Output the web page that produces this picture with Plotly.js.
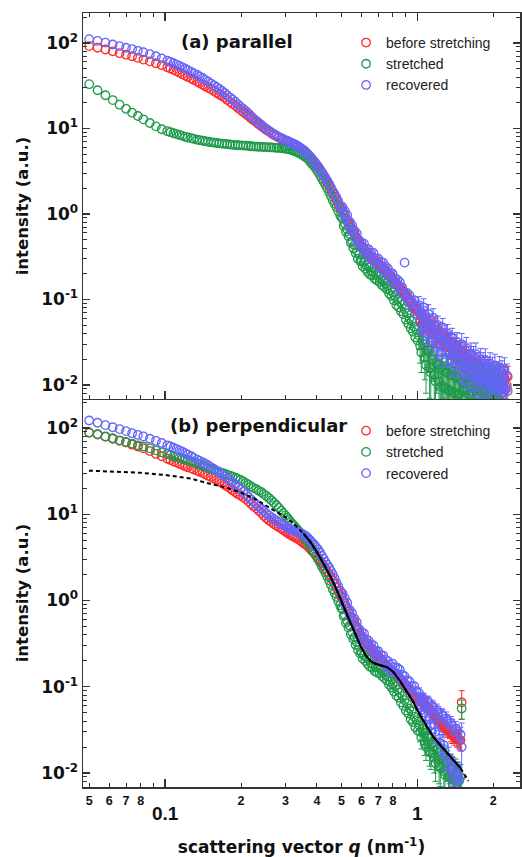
<!DOCTYPE html>
<html><head><meta charset="utf-8">
<script src="https://cdn.plot.ly/plotly-3.0.1.min.js"></script>
<style>html,body{margin:0;padding:0;background:#fff;}</style>
</head><body>
<div id="chart" style="width:522px;height:857px;"></div>
<script>
// scattering vector q (nm^-1)
const q = [0.050,0.054,0.058,0.062,0.066,0.070,0.074,0.078,0.082,0.087,0.092,0.097,
0.102,0.105,0.108,0.111,0.114,0.117,0.120,0.123,0.127,0.130,0.134,0.137,0.141,0.144,0.148,0.152,0.156,0.160,0.164,0.168,
0.172,0.176,0.181,0.185,0.190,0.194,0.199,0.204,0.209,0.214,0.219,0.224,0.230,0.235,0.241,0.246,0.252,0.258,0.264,0.270,0.276,0.282,0.289,0.294,
0.300,0.305,0.310,0.315,0.320,0.325,0.331,0.336,0.342,0.348,0.354,0.360,0.366,0.372,0.378,0.384,0.391,0.397,0.404,0.411,
0.418,0.425,0.432,0.439,0.447,0.454,0.462,0.470,0.478,0.486,0.494,0.499,
0.505,0.510,0.516,0.521,0.527,0.533,0.539,0.545,0.551,0.557,0.563,0.569,0.575,0.581,0.588,0.594,0.601,0.607,0.614,0.621,
0.628,0.635,0.642,0.649,0.656,0.663,0.670,0.677,0.685,0.692,0.700,0.708,0.716,0.724,0.732,0.740,0.748,0.756,0.764,0.772,
0.781,0.789,0.798,0.807,0.816,0.825,0.834,0.843,0.852,0.861,0.871,0.880,0.890,0.900,0.910,0.920,0.930,0.940,0.950,0.960,
0.971,0.981,0.992,1.003,
1.014,1.025,1.036,1.047,1.059,1.070,1.082,1.094,1.106,1.118,1.130,1.142,1.155,1.167,1.180,1.193,1.206,1.219,1.232,1.245,
1.259,1.273,1.287,1.301,1.315,1.329,1.344,1.358,1.373,1.388,1.403,1.418,1.434,1.450,1.466,1.482,
1.498,1.514,1.531,1.547,1.564,1.581,1.598,1.615,1.633,1.651,1.669,1.687,1.706,1.724,1.743,1.762,1.781,1.800,1.820,1.840,
1.860,1.880,1.901,1.922,1.943,1.964,1.985,2.007,2.029,2.051,2.073,2.096,2.119,2.142,2.165,2.189,2.213,2.237,2.262,2.280];

// (a) parallel
const aBefore = [92,88,84,80,76,73,70,67,64,61,58,55,
52,50.2,48.5,46.7,45,43.2,41.5,40,38.5,37,35.5,34,32.5,31.2,30,28.7,27.5,26.2,25,24,
23,21.7,20.5,19.5,18.5,17.5,16.5,15.6,14.8,14,13.2,12.5,11.8,11.2,10.6,10.1,9.6,9.2,8.8,8.4,8.1,7.85,7.6,7.4,
7.2,7.05,6.9,6.75,6.6,6.45,6.3,6.1,5.9,5.7,5.5,5.25,5.0,4.75,4.5,4.25,4.0,3.75,3.5,3.25,
3.0,2.77,2.55,2.35,2.15,1.95,1.75,1.6,1.45,1.3,1.18,1.13,
1.08,1.02,0.96,0.89,0.83,0.8,0.76,0.7,0.65,0.62,0.59,0.55,0.52,0.5,0.47,0.44,0.42,0.405,0.39,0.375,
0.36,0.35,0.34,0.33,0.32,0.31,0.30,0.29,0.28,0.272,0.265,0.257,0.25,0.242,0.235,0.227,0.22,0.212,0.205,0.197,
0.19,0.182,0.175,0.167,0.16,0.155,0.15,0.144,0.138,0.133,0.128,0.123,0.118,0.113,0.108,0.103,0.098,0.094,0.09,0.086,
0.083,0.079,0.076,0.073,
0.07,0.058,0.064,0.052,0.058,0.06,0.055,0.045,0.026,0.052,0.048,0.041,0.046,0.05,0.04,0.036,0.043,0.039,0.035,0.03,
0.037,0.033,0.031,0.036,0.033,0.028,0.027,0.031,0.029,0.022,0.024,0.028,0.026,0.02,0.021,0.025,
0.024,0.02,0.018,0.022,0.021,0.015,0.016,0.02,0.019,0.013,0.014,0.018,0.018,0.012,0.013,0.017,0.016,0.011,0.012,0.016,
0.015,0.0105,0.011,0.015,0.014,0.0098,0.011,0.014,0.013,0.0095,0.010,0.0135,0.0125,0.009,0.0105,0.013,0.012,0.0088,0.0098,0.0125];
const aStretched = [33,28,24.5,21.5,19,17,15.3,14,12.8,11.6,10.6,9.8,
9.3,9.05,8.8,8.6,8.4,8.2,8.0,7.85,7.7,7.55,7.4,7.3,7.2,7.1,7.0,6.92,6.85,6.77,6.7,6.65,
6.6,6.55,6.5,6.45,6.4,6.37,6.35,6.32,6.3,6.25,6.2,6.17,6.15,6.12,6.1,6.07,6.05,6.02,6.0,5.97,5.95,5.92,5.9,5.85,
5.8,5.75,5.7,5.62,5.55,5.45,5.35,5.22,5.1,4.95,4.8,4.65,4.5,4.25,4.0,3.8,3.6,3.35,3.1,2.85,
2.6,2.4,2.2,2.0,1.8,1.62,1.45,1.32,1.2,1.08,0.97,0.92,
0.88,0.73,0.77,0.62,0.66,0.55,0.58,0.46,0.48,0.40,0.43,0.35,0.37,0.30,0.335,0.28,0.29,0.245,0.273,0.23,
0.25,0.21,0.238,0.195,0.215,0.19,0.209,0.175,0.196,0.167,0.189,0.16,0.173,0.147,0.166,0.14,0.154,0.132,0.144,0.118,
0.129,0.11,0.121,0.098,0.11,0.086,0.099,0.081,0.094,0.073,0.087,0.067,0.077,0.058,0.069,0.052,0.06,0.046,0.056,0.042,
0.048,0.036,0.044,0.033,
0.038,0.029,0.024,0.033,0.03,0.021,0.017,0.026,0.025,0.016,0.014,0.022,0.02,0.013,0.011,0.018,0.017,0.011,0.0095,0.016,
0.015,0.0095,0.009,0.014,0.014,0.0088,0.0085,0.013,0.013,0.0082,0.008,0.0125,0.012,0.0079,0.0078,0.0115,
0.011,0.0092,0.0085,0.0105,0.012,0.0088,0.0078,0.01,0.011,0.0079,0.0082,0.0115,0.0105,0.0077,0.0076,0.0098,0.012,0.0083,0.008,0.0095,
0.0098,0.0074,0.0075,0.0102,0.011,0.0081,0.0079,0.0093,0.0095,0.0073,0.0074,0.0099,0.0105,0.0078];
const aRecovered = [111,106,101,96,92,88,85,81,78,74,70,66,
62,60,58,56,54,52,50,48,46,44,42.5,40.5,39,37,35.5,33.5,32,30.5,29,27.5,
26,24.5,23,21.8,20.5,19.2,18,17,16,15,14,13.1,12.3,11.6,11,10.4,9.9,9.4,9.0,8.6,8.3,8.0,7.7,7.5,
7.3,7.15,7.0,6.85,6.7,6.55,6.4,6.2,6.0,5.8,5.6,5.35,5.1,4.85,4.6,4.35,4.1,3.85,3.6,3.35,
3.1,2.87,2.65,2.45,2.25,2.05,1.85,1.7,1.55,1.4,1.25,1.18,
1.21,1.0,1.08,0.89,0.97,0.76,0.81,0.66,0.74,0.61,0.64,0.52,0.59,0.48,0.49,0.41,0.46,0.39,0.45,0.36,
0.39,0.32,0.385,0.33,0.35,0.29,0.35,0.28,0.30,0.25,0.30,0.245,0.275,0.225,0.27,0.22,0.243,0.197,0.23,0.19,
0.205,0.168,0.2,0.16,0.177,0.147,0.17,0.14,0.158,0.122,0.138,0.116,0.27,0.106,0.119,0.095,0.112,0.09,0.097,0.079,
0.098,0.075,0.084,0.066,
0.086,0.054,0.07,0.045,0.081,0.051,0.064,0.04,0.068,0.042,0.05,0.033,0.061,0.037,0.049,0.03,0.05,0.03,0.04,0.024,
0.047,0.03,0.039,0.024,0.04,0.025,0.032,0.02,0.036,0.023,0.03,0.019,0.032,0.019,0.025,0.0165,
0.03,0.016,0.024,0.014,0.027,0.0156,0.021,0.013,0.023,0.0134,0.021,0.0114,0.023,0.0135,0.0176,0.011,0.0198,0.0116,0.0177,0.01,
0.0196,0.0114,0.0157,0.0097,0.0176,0.0098,0.0156,0.0088,0.0169,0.0101,0.0138,0.0086,0.0159,0.0091,0.0142,0.0082,0.0154,0.0095,0.013,0.0085];
// error bars of the high-q tail (from q = 1.014 on)
const aBeforeErr = [0.016,0.014,0.015,0.013,0.014,0.014,0.013,0.012,0.012,0.012,0.011,0.01,0.011,0.011,0.01,0.009,0.01,0.009,0.009,0.008,
0.009,0.008,0.008,0.009,0.008,0.007,0.007,0.008,0.007,0.006,0.006,0.007,0.007,0.0055,0.0055,0.0065,
0.007,0.006,0.0055,0.0065,0.0065,0.005,0.0052,0.006,0.006,0.0045,0.0048,0.0055,0.0055,0.0042,0.0045,0.0052,0.005,0.004,0.0042,0.005,
0.0048,0.0038,0.004,0.0048,0.0045,0.0036,0.004,0.0045,0.0042,0.0035,0.0036,0.0043,0.004,0.0033,0.0036,0.0042,0.004,0.0032,0.0035,0.004];
const aStretchedErr = [0.012,0.011,0.01,0.011,0.011,0.0095,0.009,0.01,0.011,0.009,0.012,0.01,0.009,0.009,0.0115,0.01,0.008,0.009,0.01,0.0105,
0.008,0.009,0.0095,0.009,0.008,0.0085,0.009,0.0075,0.0085,0.008,0.0085,0.0075,0.007,0.0078,0.008,0.0072,
0.008,0.0085,0.009,0.0075,0.007,0.0085,0.008,0.0072,0.0075,0.0083,0.0085,0.007,0.007,0.008,0.0082,0.0072,0.007,0.008,0.0085,0.007,
0.0065,0.0078,0.008,0.007,0.007,0.008,0.0082,0.0068,0.0065,0.0076,0.008,0.0068,0.007,0.0079];
const aRecoveredErr = [0.022,0.016,0.02,0.014,0.021,0.015,0.018,0.013,0.019,0.013,0.015,0.011,0.017,0.012,0.014,0.01,0.014,0.01,0.012,0.008,
0.013,0.0095,0.011,0.008,0.011,0.008,0.0095,0.007,0.01,0.0075,0.009,0.0065,0.009,0.0065,0.0075,0.006,
0.01,0.006,0.008,0.005,0.009,0.0055,0.007,0.0048,0.008,0.005,0.0072,0.0042,0.008,0.005,0.0062,0.004,0.007,0.0042,0.0062,0.0038,
0.0068,0.0042,0.0055,0.0036,0.0062,0.0036,0.0055,0.0033,0.006,0.0037,0.005,0.0032,0.0056,0.0034,0.005,0.0031,0.0054,0.0035,0.0046,0.0032];

// (b) perpendicular
const bBefore = [88,84,79,75,71,68,64,61,58,54,50,47,
44,42.5,41,39.7,38.5,37.2,36,35,34,33,32,31,30,29,28,27,26,25,24,23,
22,21,20,19,18,17.2,16.5,15.7,15,14.1,13.2,12.4,11.7,11,10.3,9.6,9.0,8.5,8.1,7.7,7.4,7.1,6.8,6.55,
6.3,6.1,5.9,5.75,5.6,5.45,5.3,5.15,5.0,4.8,4.6,4.45,4.3,4.1,3.9,3.7,3.5,3.3,3.1,2.9,
2.7,2.52,2.35,2.17,2.0,1.85,1.7,1.55,1.4,1.27,1.15,1.1,
1.05,0.98,0.92,0.86,0.8,0.75,0.7,0.65,0.61,0.58,0.55,0.51,0.48,0.455,0.43,0.405,0.38,0.365,0.35,0.335,
0.32,0.31,0.30,0.29,0.28,0.27,0.26,0.25,0.24,0.232,0.225,0.217,0.21,0.202,0.195,0.187,0.18,0.175,0.17,0.165,
0.16,0.155,0.15,0.147,0.145,0.14,0.135,0.13,0.125,0.12,0.115,0.11,0.106,0.102,0.098,0.094,0.091,0.088,0.085,0.082,
0.079,0.076,0.073,0.07,
0.07,0.075,0.07,0.066,0.064,0.062,0.06,0.058,0.056,0.054,0.052,0.05,0.049,0.047,0.045,0.043,0.042,0.04,0.039,0.038,
0.036,0.035,0.034,0.033,0.032,0.031,0.03,0.029,0.028,0.027,0.026,0.028,0.026,0.025,0.024,0.024,
0.066];
const bStretched = [89,85,80,76,72,69,66,63,61,58,55,52,
50,48.5,47,46,45,44,43,42,41,39.7,38.5,37.5,36.5,35.5,34.5,33.5,32.5,31.7,31,30.2,
29.5,28.7,28,27.2,26.5,25.7,25,24,23,22,21,20.2,19.5,18.7,18,17.1,16.3,15.4,14.5,13.6,12.8,11.9,11,10.3,
9.7,9.1,8.6,8.1,7.7,7.3,6.9,6.55,6.2,5.85,5.5,5.15,4.8,4.5,4.2,3.9,3.6,3.3,3.0,2.75,
2.5,2.3,2.1,1.9,1.7,1.52,1.35,1.22,1.1,0.98,0.88,0.82,
0.79,0.66,0.685,0.55,0.58,0.485,0.51,0.405,0.43,0.357,0.375,0.307,0.33,0.267,0.29,0.242,0.25,0.212,0.235,0.2,
0.217,0.183,0.205,0.17,0.189,0.166,0.182,0.152,0.17,0.146,0.167,0.143,0.157,0.133,0.15,0.126,0.138,0.119,0.13,0.106,
0.115,0.098,0.107,0.088,0.101,0.079,0.092,0.075,0.085,0.066,0.078,0.06,0.07,0.053,0.064,0.049,0.056,0.042,0.052,0.039,
0.045,0.034,0.041,0.031,
0.036,0.03,0.026,0.032,0.029,0.022,0.02,0.026,0.023,0.018,0.017,0.022,0.02,0.015,0.013,0.019,0.017,0.012,0.0115,0.016,
0.015,0.0105,0.0095,0.014,0.013,0.009,0.0088,0.012,0.011,0.0085,0.0085,0.0105,0.0095,0.008,0.0082,0.009,
0.056];
const bRecovered = [122,115,108,102,97,92,87,83,80,75,71,67,
63,61,59,57,55,53,51,49,47,45,43,41.5,40,38.5,37,35.2,33.5,32,30.5,29,
27.5,26.2,25,23.5,22,20.7,19.5,18.2,17,15.9,14.8,13.9,13,12.2,11.5,10.8,10.2,9.7,9.2,8.8,8.4,8.05,7.7,7.45,
7.2,7.0,6.8,6.65,6.5,6.4,6.3,6.2,6.1,5.95,5.8,5.6,5.4,5.15,4.9,4.65,4.4,4.15,3.9,3.6,
3.3,3.05,2.8,2.6,2.4,2.2,2.0,1.8,1.6,1.45,1.3,1.22,
1.21,0.99,1.06,0.86,0.94,0.74,0.78,0.63,0.71,0.585,0.615,0.49,0.56,0.45,0.465,0.38,0.43,0.366,0.415,0.33,
0.357,0.29,0.34,0.288,0.31,0.255,0.302,0.244,0.26,0.218,0.258,0.211,0.233,0.191,0.23,0.187,0.205,0.168,0.198,0.165,
0.179,0.15,0.185,0.15,0.169,0.142,0.165,0.138,0.158,0.122,0.138,0.116,0.132,0.106,0.119,0.095,0.115,0.094,0.101,0.083,
0.102,0.078,0.089,0.07,
0.085,0.062,0.058,0.074,0.072,0.05,0.045,0.068,0.066,0.042,0.036,0.06,0.058,0.036,0.03,0.054,0.05,0.028,0.022,0.048,
0.046,0.021,0.016,0.043,0.04,0.015,0.012,0.038,0.035,0.011,0.0095,0.033,0.03,0.0092,0.0085,0.028,
0.02];
const bBeforeErr = [0.01,0.009,0.009,0.008,0.009,0.008,0.008,0.007,0.008,0.007,0.008,0.007,0.007,0.006,0.007,0.006,0.007,0.006,0.006,0.006,
0.006,0.005,0.006,0.005,0.006,0.005,0.005,0.006,0.006,0.005,0.005,0.006,0.006,0.005,0.005,0.006,0.024];
const bStretchedErr = [0.008,0.007,0.007,0.008,0.008,0.006,0.006,0.007,0.007,0.006,0.006,0.007,0.006,0.005,0.005,0.006,0.006,0.0045,0.0045,0.0055,
0.005,0.004,0.004,0.005,0.005,0.0038,0.0038,0.0045,0.0045,0.0035,0.0035,0.004,0.004,0.0033,0.0034,0.0036,0.014];
const bRecoveredErr = [0.012,0.01,0.009,0.011,0.011,0.009,0.008,0.01,0.01,0.008,0.008,0.01,0.009,0.007,0.007,0.009,0.009,0.006,0.006,0.008,
0.008,0.006,0.005,0.008,0.007,0.005,0.0045,0.007,0.007,0.004,0.004,0.0065,0.006,0.004,0.004,0.006,0.018];

// model curve, panel (b)
const modelQ = [0.0499,0.0605,0.0796,0.1,0.1257,0.1468,0.1730,0.1984,0.2276,0.2683,0.2994,0.3221,0.3528,0.3762,0.4010,0.4276,0.4517,0.4728,0.4950,0.5181,0.5422,0.5675,0.5940,0.6218,0.6509,0.6813,0.7131,0.7603,0.8032,0.8562,0.9128,0.9641,1.0278,1.0957,1.1576,1.2340,1.3153,1.3895,1.4813,1.5937];
const modelI = [32,31.5,30.3,28.5,26,23,20.5,18,15,11.2,9.3,7.9,6.0,4.8,3.6,2.6,1.9,1.45,1.05,0.75,0.55,0.41,0.30,0.235,0.20,0.185,0.177,0.168,0.148,0.115,0.086,0.066,0.046,0.034,0.026,0.021,0.017,0.0138,0.0114,0.0081];
const solidFrom = 12, solidTo = 38;

const seriesNames = ['before stretching','stretched','recovered'];
const seriesColors = ['#ff2a2a','#1f9a4b','#6464ff'];
const tickLabelsY = ['10<sup>-2</sup>','10<sup>-1</sup>','10<sup>0</sup>','10<sup>1</sup>','10<sup>2</sup>'];
const minorLabelVals = [0.05,0.06,0.07,0.08,0.2,0.3,0.4,0.5,0.6,0.7,0.8,2];
const minorLabelText = ['5','6','7','8','2','3','4','5','6','7','8','2'];

const tailStart = 152; // index of q = 1.014
function padErr(tail){ return Array(tailStart).fill(NaN).concat(tail); }

const traces = [];
const aSets = [aBefore, aStretched, aRecovered];
const aErrs = [aBeforeErr, aStretchedErr, aRecoveredErr];
const bSets = [bBefore, bStretched, bRecovered];
const bErrs = [bBeforeErr, bStretchedErr, bRecoveredErr];
function mk(i){ return {symbol:'circle-open', size:8.5, color:seriesColors[i], line:{width:1.3, color:seriesColors[i]}}; }
for (let i=0;i<3;i++){
  traces.push({x:q.slice(0,aSets[i].length), y:aSets[i], xaxis:'x', yaxis:'y', type:'scatter', mode:'markers',
    name:seriesNames[i], legend:'legend', marker:mk(i),
    error_y:{type:'data', array:padErr(aErrs[i]), visible:true, color:seriesColors[i], thickness:1, width:3}});
}
for (let i=0;i<3;i++){
  traces.push({x:q.slice(0,bSets[i].length), y:bSets[i], xaxis:'x2', yaxis:'y2', type:'scatter', mode:'markers',
    name:seriesNames[i], legend:'legend2', marker:mk(i),
    error_y:{type:'data', array:padErr(bErrs[i]), visible:true, color:seriesColors[i], thickness:1, width:3}});
}
traces.push({x:modelQ, y:modelI, xaxis:'x2', yaxis:'y2', type:'scatter', mode:'lines', showlegend:false,
  line:{color:'#000', width:2, dash:'4px,3px'}});
traces.push({x:modelQ.slice(solidFrom, solidTo+1), y:modelI.slice(solidFrom, solidTo+1), xaxis:'x2', yaxis:'y2', type:'scatter', mode:'lines', showlegend:false,
  line:{color:'#000', width:2}});
traces.push({x:[], y:[], xaxis:'x3', yaxis:'y2', type:'scatter', mode:'markers', showlegend:false});

const minorY = []; for (let e=-3;e<=2;e++) for (let m=2;m<=9;m++) minorY.push(m*Math.pow(10,e));
const minorX = []; for (let e=-2;e<=0;e++) for (let m=2;m<=9;m++) minorX.push(m*Math.pow(10,e));

const axisCol = '#333';
const boldFont = 'DejaVu Sans, sans-serif';
const xRange = [-1.3254, 0.4067];
function yAxis(range, domain, anchor){
  return {type:'log', range:range, domain:domain, anchor:anchor,
    tickmode:'array', tickvals:[0.01,0.1,1,10,100], ticktext:tickLabelsY,
    tickfont:{family:boldFont, size:17, color:'#111', weight:'bold'},
    ticks:'inside', ticklen:7, tickwidth:1.3, tickcolor:axisCol,
    minor:{tickmode:'array', tickvals:minorY, ticks:'inside', ticklen:4, tickwidth:1, tickcolor:axisCol, showgrid:false},
    showline:true, linecolor:axisCol, linewidth:1.5, mirror:'ticks', showgrid:false, zeroline:false,
    title:{text:'intensity (a.u.)', font:{family:boldFont, size:16.5, color:'#111', weight:'bold'}, standoff:8},
    automargin:false};
}
const layout = {
  width:522, height:857, margin:{l:83, r:2, t:13, b:70}, paper_bgcolor:'#fff', plot_bgcolor:'#fff',
  showlegend:true,
  xaxis:{type:'log', range:xRange, domain:[0,1], anchor:'y', showticklabels:false,
    tickmode:'array', tickvals:[0.1,1], ticks:'inside', ticklen:8, tickwidth:1.3, tickcolor:axisCol,
    minor:{tickmode:'array', tickvals:minorX, ticks:'inside', ticklen:4, tickwidth:1, tickcolor:axisCol, showgrid:false},
    showline:true, linecolor:axisCol, linewidth:1.5, mirror:'ticks', showgrid:false, zeroline:false, automargin:false},
  xaxis2:{type:'log', range:xRange, domain:[0,1], anchor:'y2',
    tickmode:'array', tickvals:[0.1,1], ticktext:['0.1','1'], ticklabelstandoff:9,
    tickfont:{family:'Liberation Sans, Arial, sans-serif', size:19, color:'#111', weight:'bold'},
    ticks:'inside', ticklen:8, tickwidth:1.3, tickcolor:axisCol,
    minor:{tickmode:'array', tickvals:minorX, ticks:'inside', ticklen:4, tickwidth:1, tickcolor:axisCol, showgrid:false},
    showline:true, linecolor:axisCol, linewidth:1.5, mirror:false, showgrid:false, zeroline:false, automargin:false,
    title:{text:'scattering vector <i>q</i> (nm<sup>-1</sup>)', font:{family:boldFont, size:17, color:'#111', weight:'bold'}, standoff:18}},
  xaxis3:{type:'log', range:xRange, overlaying:'x2', anchor:'y2', side:'bottom',
    tickmode:'array', tickvals:minorLabelVals, ticktext:minorLabelText, ticks:'', ticklabelstandoff:4,
    tickfont:{family:'Liberation Sans, Arial, sans-serif', size:12.5, color:'#111', weight:'bold'},
    showline:false, showgrid:false, zeroline:false, automargin:false},
  yaxis:yAxis([-2.164, 2.351], [0.5013, 1], 'x'),
  yaxis2:yAxis([-2.162, 2.336], [0, 0.5013], 'x2'),
  legend:{x:0.602, xanchor:'left', y:0.982, yanchor:'top', bgcolor:'rgba(0,0,0,0)', borderwidth:0,
    font:{family:'Liberation Sans, Arial, sans-serif', size:14, color:'#222'}, itemwidth:30, tracegroupgap:0},
  legend2:{x:0.602, xanchor:'left', y:0.4805, yanchor:'top', bgcolor:'rgba(0,0,0,0)', borderwidth:0,
    font:{family:'Liberation Sans, Arial, sans-serif', size:14, color:'#222'}, itemwidth:30, tracegroupgap:0},
  annotations:[
    {text:'(a) parallel', xref:'paper', yref:'paper', x:0.3535, y:0.9638, xanchor:'center', yanchor:'middle', showarrow:false,
      font:{family:boldFont, size:18, color:'#111', weight:'bold'}},
    {text:'(b) perpendicular', xref:'paper', yref:'paper', x:0.4027, y:0.4677, xanchor:'center', yanchor:'middle', showarrow:false,
      font:{family:boldFont, size:18, color:'#111', weight:'bold'}}
  ]
};
Plotly.newPlot('chart', traces, layout, {displayModeBar:false, staticPlot:true});
</script>
</body></html>
